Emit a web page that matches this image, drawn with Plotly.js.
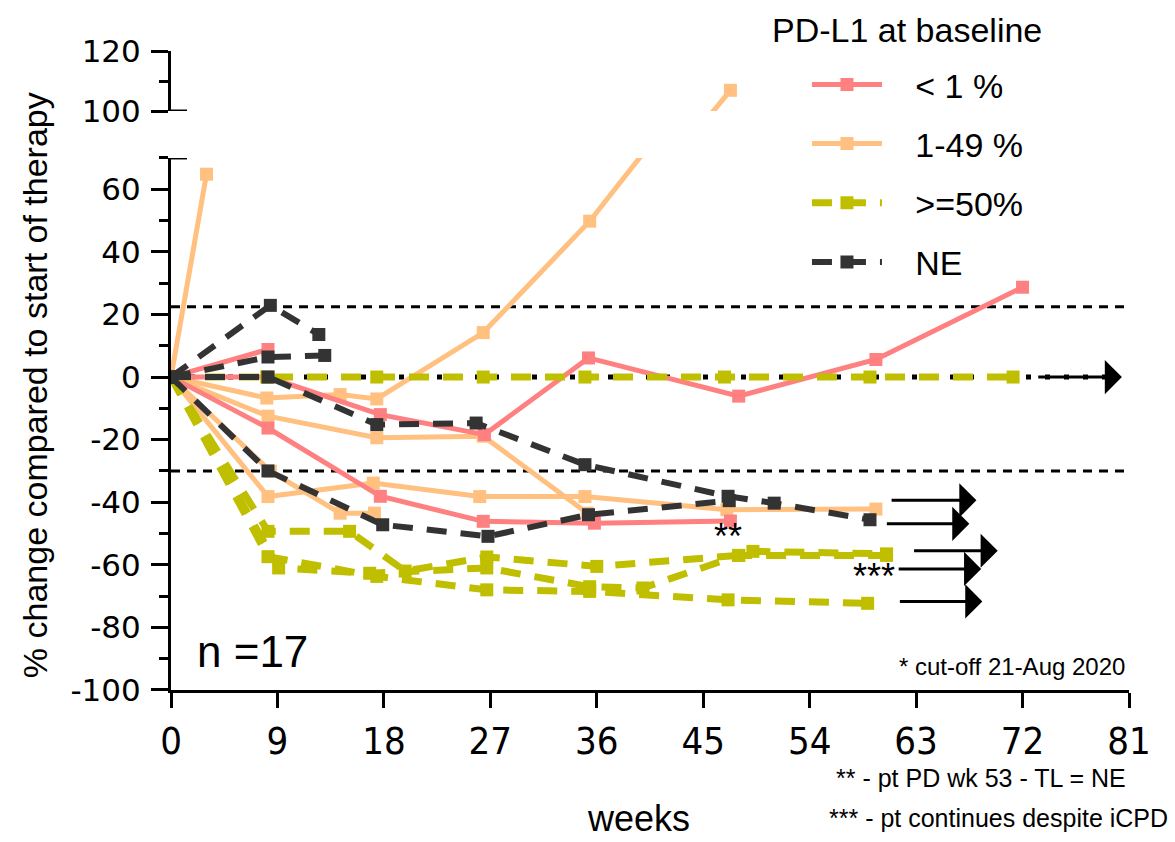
<!DOCTYPE html>
<html>
<head>
<meta charset="utf-8">
<script src="https://cdn.plot.ly/plotly-3.0.1.min.js"></script>
<style>html,body{margin:0;padding:0;background:#fff;}#chart{width:1175px;height:842px;}</style>
</head>
<body>
<div id="chart"></div>
<script>
// ---------- DATA ----------
// PD-L1 < 1 %
const lt1Weeks  = [[0, 8.2], [0, 8.2, 17.7, 26.5, 35.3, 48, 59.6, 72], [0, 8.2, 17.7, 26.4, 35.8, 47.3]];
const lt1Values = [[0, 8.8], [0, 0, -12, -18.4, 6.1, -6.1, 5.6, 28.7], [0, -16.3, -38.1, -46.1, -46.7, -46]];
// PD-L1 1-49 %
const midWeeks  = [[0, 3.0], [0, 8.1, 14.3, 17.4, 26.4, 35.4, 47.3], [0, 8.2, 17.4, 26.4, 35.2],
                   [0, 8.2, 17.1, 26.1, 35, 47, 59.6], [0, 8.4, 14.3, 17.2]];
const midValues = [[0, 64.8], [0, -6.7, -5.6, -7, 14.2, 49.8, 106.9], [0, -12.5, -19.4, -18.9, -43.5],
                   [0, -38.2, -33.9, -38.2, -38.2, -42.4, -42.2], [0, -30.1, -43.5, -43.5]];
// PD-L1 >= 50 %
const highWeeks  = [[0, 8.1, 17.4, 26.4, 35, 46.8, 59.1, 71.2], [0, 8.2, 15.1, 19.8, 26.7, 36, 48, 49.2, 60.5],
                    [0, 9.1, 16.8, 26.7, 35.4, 39.9, 48, 60.5], [0, 8.2, 17.4, 26.7, 35.4, 47.1, 58.9]];
const highValues = [[0, 0, 0, 0, 0, 0, 0, 0], [0, -49.3, -49.3, -62, -57.5, -60.5, -57, -55.7, -56.5],
                    [0, -61, -62.7, -61, -67, -67.4, -57, -57], [0, -57.4, -63.7, -68, -68.5, -71.2, -72.3]];
// PD-L1 not evaluable
const neWeeks  = [[0, 8.4, 12.5], [0, 8.2, 13], [0, 8.2, 17.4, 25.8, 35, 47.1, 51, 59.1], [0, 8.2, 17.9, 26.8, 35.3, 47.2]];
const neValues = [[0, 22.9, 13.6], [0, 6.4, 6.9], [0, 0, -15.2, -14.7, -28, -38.1, -40.3, -45.6], [0, -30, -47.2, -50.9, -44, -39.5]];

const groupNames = ['< 1 %', '1-49 %', '>=50%', 'NE'];
const legendTitle = 'PD-L1 at baseline';
const xTicks = [0, 9, 18, 27, 36, 45, 54, 63, 72, 81];
const yTicksLow = [-100, -80, -60, -40, -20, 0, 20, 40, 60];
const yTickTextLow = ['-100', '-80', '-60', '-40', '-20', '0', '20', '40', '60'];
const yTicksHigh = [100, 120];
const yTickTextHigh = ['100', '120'];
const refLines = [22.5, -30];             // dashed reference levels
// continuation arrows: level, tail week, tip week
const arrowY    = [0, -39.4, -46.9, -55.5, -61.3, -71.7];
const arrowTail = [73.2, 60.8, 60.4, 62.7, 61.4, 61.5];
const arrowTip  = [80.4, 68.1, 67.5, 69.9, 68.5, 68.6];
const starNotes = [{t: '**', x: 47.1, y: -50.8}, {t: '***', x: 59.4, y: -63.8}];

// ---------- STYLE ----------
const ARIAL  = '"Liberation Sans", Arial, sans-serif';
const COND   = '"DejaVu Sans Condensed", "Liberation Sans", sans-serif';
const WIDE   = '"DejaVu Sans", "Liberation Sans", sans-serif';
const PAD = '\u00A0\u00A0\u00A0';

const groups = [
  {weeks: midWeeks,  values: midValues,  name: groupNames[1], color: '#FFC080', width: 5, dash: 'solid',     rank: 2},
  {weeks: lt1Weeks,  values: lt1Values,  name: groupNames[0], color: '#FF8080', width: 5, dash: 'solid',     rank: 1},
  {weeks: highWeeks, values: highValues, name: groupNames[2], color: '#BFBF00', width: 7, dash: '20px,14px', rank: 3},
  {weeks: neWeeks,   values: neValues,   name: groupNames[3], color: '#333333', width: 6, dash: '20px,14px', rank: 4}
];

const traces = [];
groups.forEach(g => {
  g.weeks.forEach((w, i) => {
    const base = {
      x: w, y: g.values[i], mode: 'lines+markers', type: 'scatter',
      name: PAD + g.name, legendgroup: g.name, legendrank: g.rank,
      line: {color: g.color, width: g.width, dash: g.dash},
      marker: {symbol: 'square', size: 13, color: g.color},
      hoverinfo: 'x+y'
    };
    traces.push(Object.assign({}, base, {yaxis: 'y', showlegend: i === 0}));
    if (Math.max.apply(null, g.values[i]) > 70) {
      traces.push(Object.assign({}, base, {yaxis: 'y2', showlegend: false}));
    }
  });
});

const shapes = [];
refLines.forEach(v => shapes.push({type: 'line', xref: 'x', yref: 'y', x0: 0, x1: 81, y0: v, y1: v,
  line: {color: 'black', width: 3, dash: '9px,7px'}, layer: 'below'}));
shapes.push({type: 'line', xref: 'x', yref: 'y', x0: 0, x1: 79.5, y0: 0, y1: 0,
  line: {color: 'black', width: 5, dash: '5px,14px'}, layer: 'below'});
// axis break marks
shapes.push({type: 'line', xref: 'x', yref: 'y', xsizemode: 'pixel', xanchor: 0, x0: -16, x1: 16, y0: 70, y1: 70,
  line: {color: 'black', width: 3}});
shapes.push({type: 'line', xref: 'x', yref: 'y2', xsizemode: 'pixel', xanchor: 0, x0: -16, x1: 16, y0: 100, y1: 100,
  line: {color: 'black', width: 3}});

const annotations = [];
arrowY.forEach((v, i) => annotations.push({
  x: arrowTip[i], y: v, ax: arrowTail[i], ay: v, xref: 'x', yref: 'y', axref: 'x', ayref: 'y',
  text: '', showarrow: true, arrowhead: 1, arrowsize: 1.9, arrowwidth: 3, arrowcolor: 'black', standoff: 0
}));
starNotes.forEach(s => annotations.push({x: s.x, y: s.y, xref: 'x', yref: 'y', text: s.t, showarrow: false,
  font: {family: ARIAL, size: 36, color: 'black'}}));
annotations.push({text: legendTitle, xref: 'paper', yref: 'paper', x: 0.6253, y: 1.0329, showarrow: false,
  xanchor: 'left', yanchor: 'middle', font: {family: ARIAL, size: 34, color: 'black'}});
annotations.push({text: '% change compared to start of therapy', xref: 'paper', yref: 'paper',
  x: -0.142, y: 0.477, textangle: -90, showarrow: false, xanchor: 'center', yanchor: 'middle',
  font: {family: ARIAL, size: 34, color: 'black'}});
annotations.push({text: 'weeks', xref: 'paper', yref: 'paper', x: 0.4875, y: -0.2005, showarrow: false,
  xanchor: 'center', yanchor: 'middle', font: {family: ARIAL, size: 36, color: 'black'}});
annotations.push({text: 'n =17', xref: 'paper', yref: 'paper', x: 0.025, y: 0.061, showarrow: false,
  xanchor: 'left', yanchor: 'middle', font: {family: ARIAL, size: 44, color: 'black'}});
annotations.push({text: '* cut-off 21-Aug 2020', xref: 'paper', yref: 'paper', x: 0.998, y: 0.036, showarrow: false,
  xanchor: 'right', yanchor: 'middle', font: {family: ARIAL, size: 24, color: 'black'}});
annotations.push({text: '** - pt PD wk 53 - TL = NE', xref: 'paper', yref: 'paper', x: 0.999, y: -0.138, showarrow: false,
  xanchor: 'right', yanchor: 'middle', font: {family: ARIAL, size: 25, color: 'black'}});
annotations.push({text: '*** - pt continues despite iCPD', xref: 'paper', yref: 'paper', x: 1.043, y: -0.2, showarrow: false,
  xanchor: 'right', yanchor: 'middle', font: {family: ARIAL, size: 25, color: 'black'}});

const axisCommon = {showline: true, linecolor: 'black', linewidth: 3, ticks: 'outside', tickcolor: 'black',
  tickwidth: 3, showgrid: false, zeroline: false, fixedrange: true};

const layout = {
  width: 1175, height: 842,
  margin: {l: 171, r: 46, t: 51, b: 152},
  paper_bgcolor: 'white', plot_bgcolor: 'white',
  showlegend: true,
  legend: {
    x: 0.62, y: 0.9925, xanchor: 'left', yanchor: 'top',
    font: {family: ARIAL, size: 34, color: 'black'},
    itemwidth: 70, tracegroupgap: 12, indentation: 42, bgcolor: 'rgba(0,0,0,0)', traceorder: 'grouped'
  },
  xaxis: Object.assign({}, axisCommon, {
    range: [0, 81], tickvals: xTicks, ticklen: 15, anchor: 'y',
    tickfont: {family: COND, size: 38, color: 'black'}
  }),
  yaxis: Object.assign({}, axisCommon, {
    domain: [0, 0.8326], range: [-100, 70], tickvals: yTicksLow, ticktext: yTickTextLow, ticklen: 17, anchor: 'x',
    ticklabelstandoff: 4,
    minor: {dtick: 10, tick0: 0, ticks: 'outside', ticklen: 9, tickwidth: 3, tickcolor: 'black'},
    tickfont: {family: WIDE, size: 31, color: 'black'}
  }),
  yaxis2: Object.assign({}, axisCommon, {
    domain: [0.9061, 1], range: [100, 120], tickvals: yTicksHigh, ticktext: yTickTextHigh, ticklen: 17, anchor: 'x',
    ticklabelstandoff: 4,
    minor: {dtick: 10, tick0: 0, ticks: 'outside', ticklen: 9, tickwidth: 3, tickcolor: 'black'},
    tickfont: {family: WIDE, size: 31, color: 'black'}
  }),
  shapes: shapes,
  annotations: annotations
};

Plotly.newPlot('chart', traces, layout, {displayModeBar: false, staticPlot: true});
</script>
</body>
</html>
